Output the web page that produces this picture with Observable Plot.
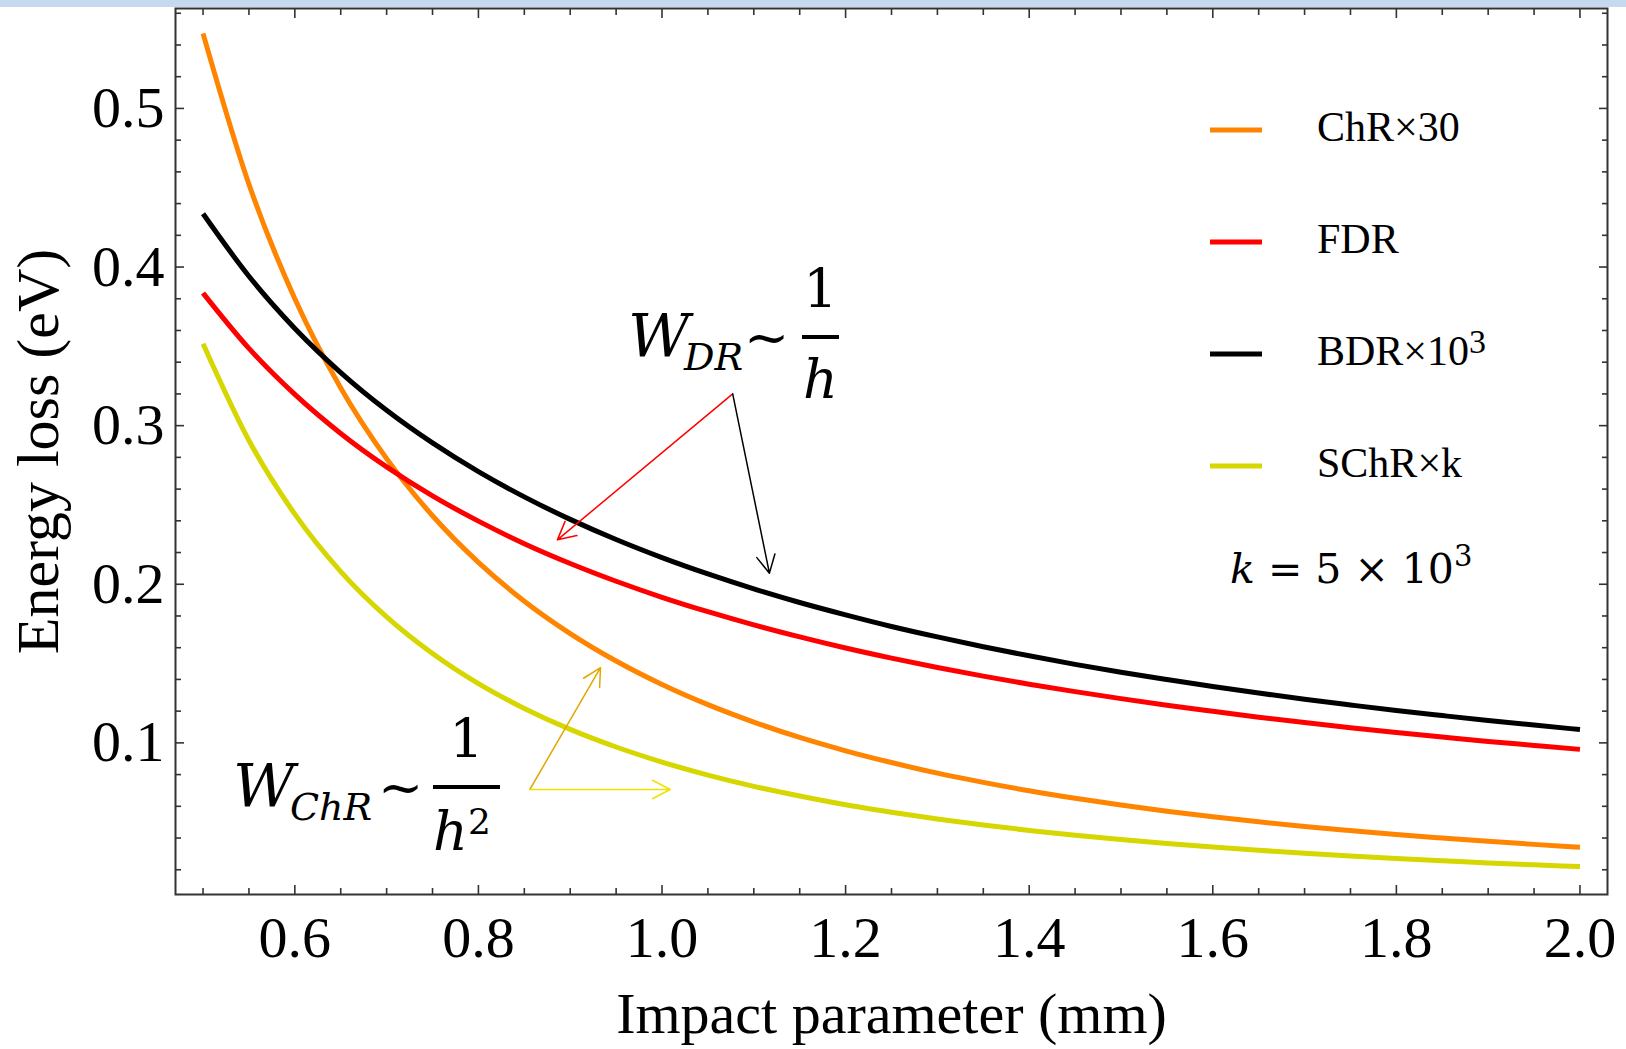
<!DOCTYPE html>
<html><head><meta charset="utf-8">
<script src="https://cdn.jsdelivr.net/npm/d3@7"></script>
<script src="https://cdn.jsdelivr.net/npm/@observablehq/plot@0.6"></script>
<style>
html,body{margin:0;padding:0;background:#fff;}
#wrap{position:relative;width:1626px;height:1049px;overflow:hidden;background:#fff;}
#band{position:absolute;left:0;top:0;width:1626px;height:7px;background:#c6d9ee;}
#overlay{position:absolute;left:0;top:0;}
</style></head><body>
<div id="wrap"><div id="chart"></div><div id="band"></div><svg id="overlay" width="1626" height="1049"></svg></div>
<script>
// Impact parameter h (mm)
const impact = [0.50,0.55,0.60,0.65,0.70,0.75,0.80,0.85,0.90,0.95,1.00,1.05,1.10,1.15,1.20,1.25,1.30,1.35,1.40,1.45,1.50,1.55,1.60,1.65,1.70,1.75,1.80,1.85,1.90,1.95,2.00];
// Energy loss (eV)
const chrX30 = [0.5472,0.4522,0.3800,0.3238,0.2792,0.2432,0.2138,0.1893,0.1689,0.1516,0.1368,0.1241,0.1131,0.1034,0.0950,0.0876,0.0809,0.0751,0.0698,0.0651,0.0608,0.0569,0.0534,0.0502,0.0473,0.0447,0.0422,0.0400,0.0379,0.0360,0.0342];
const fdr = [0.3836,0.3487,0.3197,0.2951,0.2740,0.2557,0.2398,0.2256,0.2131,0.2019,0.1918,0.1827,0.1744,0.1668,0.1598,0.1534,0.1475,0.1421,0.1370,0.1323,0.1279,0.1237,0.1199,0.1162,0.1128,0.1096,0.1066,0.1037,0.1009,0.0984,0.0959];
const bdrX1e3 = [0.4336,0.3942,0.3613,0.3335,0.3097,0.2891,0.2710,0.2551,0.2409,0.2282,0.2168,0.2065,0.1971,0.1885,0.1807,0.1734,0.1668,0.1606,0.1549,0.1495,0.1445,0.1399,0.1355,0.1314,0.1275,0.1239,0.1204,0.1172,0.1141,0.1112,0.1084];
const schrXk = [0.3516,0.2906,0.2442,0.2080,0.1794,0.1563,0.1373,0.1217,0.1085,0.0974,0.0879,0.0797,0.0726,0.0665,0.0610,0.0563,0.0520,0.0482,0.0448,0.0418,0.0391,0.0366,0.0343,0.0323,0.0304,0.0287,0.0271,0.0257,0.0243,0.0231,0.0220];

const seriesNames = ["ChR×30", "FDR", "BDR×10³", "SChR×k"];
const seriesColors = ["#ff8400", "#ff0000", "#000000", "#d6d600"];
const seriesValues = [chrX30, fdr, bdrX1e3, schrXk];

const xMajor = [0.6,0.8,1.0,1.2,1.4,1.6,1.8,2.0];
const xMinor = [0.5,0.55,0.65,0.7,0.75,0.85,0.9,0.95,1.05,1.1,1.15,1.25,1.3,1.35,1.45,1.5,1.55,1.65,1.7,1.75,1.85,1.9,1.95];
const yMajor = [0.1,0.2,0.3,0.4,0.5];
const yMinor = [0.02,0.04,0.06,0.08,0.12,0.14,0.16,0.18,0.22,0.24,0.26,0.28,0.32,0.34,0.36,0.38,0.42,0.44,0.46,0.48,0.52,0.54,0.56];

// annotation arrows (data coordinates)
const arrowX1 = [1.077, 1.077, 0.856, 0.856];
const arrowY1 = [0.320, 0.320, 0.0706, 0.0706];
const arrowX2 = [0.886, 1.117, 0.933, 1.009];
const arrowY2 = [0.228, 0.207, 0.1475, 0.0706];
const arrowColors = ["#ff0000", "#000000", "#e2a800", "#f0e000"];

const rows = [];
seriesNames.forEach((s, i) => impact.forEach((h, j) => rows.push({series: s, h, e: seriesValues[i][j]})));
const arrows = arrowX1.map((d, i) => ({x1: d, y1: arrowY1[i], x2: arrowX2[i], y2: arrowY2[i], c: arrowColors[i]}));

const tickStroke = "#333";
const fmt = d3.format(".1f");

const chart = Plot.plot({
  width: 1626, height: 1049,
  marginLeft: 175, marginRight: 19, marginTop: 8, marginBottom: 155,
  x: {domain: [0.47, 2.03], label: null},
  y: {domain: [0.0044, 0.563], label: null},
  style: {fontFamily: "'Liberation Serif', 'Times New Roman', serif", background: "transparent", color: "#000"},
  marks: [
    Plot.axisX(xMinor, {anchor: "bottom", tickSize: -6, tickFormat: () => "", stroke: tickStroke, strokeWidth: 1.6}),
    Plot.axisX(xMajor, {anchor: "bottom", tickSize: -9, tickFormat: () => "", stroke: tickStroke, strokeWidth: 1.6}),
    Plot.axisX(xMinor, {anchor: "top", tickSize: -6, tickFormat: () => "", stroke: tickStroke, strokeWidth: 1.6}),
    Plot.axisX(xMajor, {anchor: "top", tickSize: -9, tickFormat: () => "", stroke: tickStroke, strokeWidth: 1.6}),
    Plot.axisY(yMinor, {anchor: "left", tickSize: -6, tickFormat: () => "", stroke: tickStroke, strokeWidth: 1.6}),
    Plot.axisY(yMajor, {anchor: "left", tickSize: -9, tickFormat: () => "", stroke: tickStroke, strokeWidth: 1.6}),
    Plot.axisY(yMinor, {anchor: "right", tickSize: -6, tickFormat: () => "", stroke: tickStroke, strokeWidth: 1.6}),
    Plot.axisY(yMajor, {anchor: "right", tickSize: -9, tickFormat: () => "", stroke: tickStroke, strokeWidth: 1.6}),
    Plot.axisX(xMajor, {anchor: "bottom", tickSize: 0, tickPadding: 21, tickFormat: fmt, fontSize: 58, fill: "#000"}),
    Plot.axisY(yMajor, {anchor: "left", tickSize: 0, tickPadding: 11, tickFormat: fmt, fontSize: 58, fill: "#000"}),
    Plot.frame({stroke: tickStroke, strokeWidth: 2}),
    Plot.line(rows, {x: "h", y: "e", z: "series", stroke: "series", strokeWidth: 5, curve: "monotone-x", strokeLinecap: "butt"}),
    Plot.arrow(arrows, {x1: "x1", y1: "y1", x2: "x2", y2: "y2", stroke: "c", strokeWidth: 1.5, headLength: 20, headAngle: 55}),
    Plot.text(["Impact parameter (mm)"], {frameAnchor: "bottom", lineAnchor: "middle", textAnchor: "middle", dy: 120, text: d => d, fontSize: 58, fill: "#000"}),
    Plot.text(["Energy loss (eV)"], {frameAnchor: "left", textAnchor: "middle", lineAnchor: "middle", dx: -137, rotate: -90, text: d => d, fontSize: 60, fill: "#000"})
  ],
  color: {domain: seriesNames, range: seriesColors}
});
document.getElementById("chart").appendChild(chart);

// legend + formula annotations overlay
const legendY = [130, 242, 354, 466];
let ov = '';
seriesNames.forEach((s, i) => {
  ov += `<rect x="1210" y="${legendY[i] - 2.5}" width="52" height="5" fill="${seriesColors[i]}"/>`;
  const label = s.endsWith("³") ? `${s.slice(0, -1)}<tspan font-size="34" dy="-12">3</tspan>` : s;
  ov += `<text x="1317" y="${legendY[i] + 11}" font-family="Liberation Serif" font-size="42" fill="#000">${label}</text>`;
});
ov += `<text x="1230" y="583" font-family="DejaVu Serif" font-size="41" fill="#000"><tspan font-style="italic">k</tspan> = 5 × 10<tspan font-size="29" dy="-17">3</tspan></text>`;
const mf = 'font-family="DejaVu Serif" fill="#000"';
// W_DR ~ 1/h
ov += `<text x="628" y="357" ${mf} font-style="italic" font-size="60">W</text>`;
ov += `<text x="684" y="370" ${mf} font-style="italic" font-size="38">DR</text>`;
ov += `<text x="744" y="356" ${mf} font-size="54">~</text>`;
ov += `<text x="820.5" y="308" ${mf} font-size="54" text-anchor="middle">1</text>`;
ov += `<rect x="802" y="335" width="37" height="4" fill="#000"/>`;
ov += `<text x="820.5" y="398" ${mf} font-style="italic" font-size="54" text-anchor="middle">h</text>`;
// W_ChR ~ 1/h^2
ov += `<text x="233" y="807" ${mf} font-style="italic" font-size="60">W</text>`;
ov += `<text x="290" y="820" ${mf} font-style="italic" font-size="38">ChR</text>`;
ov += `<text x="378" y="806" ${mf} font-size="54">~</text>`;
ov += `<text x="466.5" y="758" ${mf} font-size="54" text-anchor="middle">1</text>`;
ov += `<rect x="433" y="785" width="67" height="4" fill="#000"/>`;
ov += `<text x="433" y="850" ${mf} font-style="italic" font-size="54">h</text>`;
ov += `<text x="468" y="834" ${mf} font-size="36">2</text>`;
document.getElementById("overlay").innerHTML = ov;
</script>
</body></html>
